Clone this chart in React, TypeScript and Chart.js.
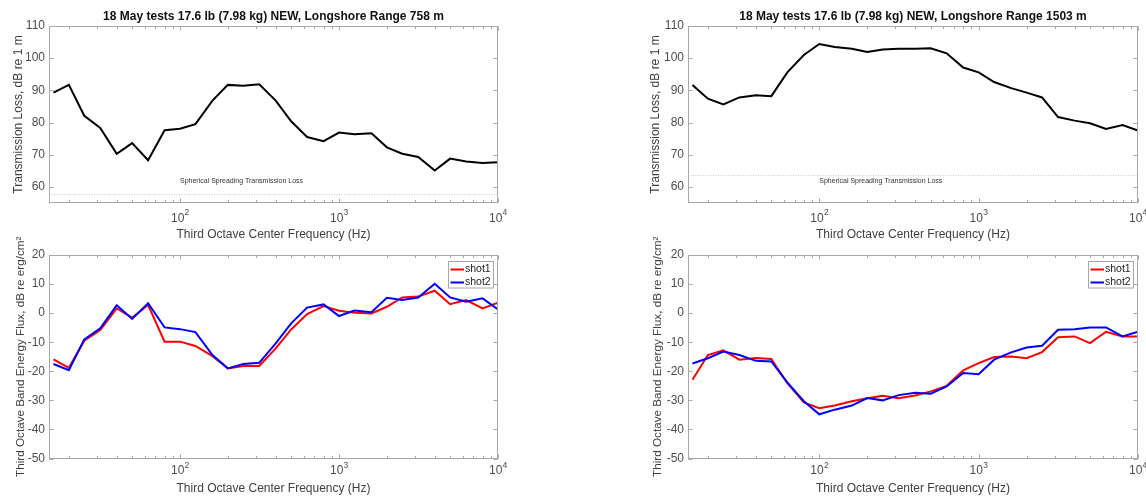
import React, { useEffect, useRef } from 'react';
import { Chart, registerables } from 'chart.js';

Chart.register(...registerables);

const FONT = '"Liberation Sans", Arial, Helvetica, sans-serif';

// Third-octave band centre frequencies (Hz)
const FREQS = [16, 20, 25, 31.5, 40, 50, 63, 80, 100, 125, 160, 200, 250, 315, 400, 500, 630, 800, 1000, 1250, 1600, 2000, 2500, 3150, 4000, 5000, 6300, 8000, 10000];

// Transmission loss, dB re 1 m
const TL_758 = [89.3, 91.7, 82.1, 78.3, 70.3, 73.6, 68.3, 77.6, 78.1, 79.5, 86.8, 91.7, 91.4, 91.9, 86.8, 80.4, 75.5, 74.2, 76.9, 76.4, 76.7, 72.3, 70.3, 69.3, 65.1, 68.8, 67.9, 67.4, 67.7];
const TL_1503 = [91.7, 87.4, 85.6, 87.8, 88.5, 88.2, 95.6, 101.0, 104.4, 103.5, 102.9, 101.9, 102.7, 102.9, 102.9, 103.1, 101.5, 97.1, 95.6, 92.6, 90.7, 89.3, 87.8, 81.7, 80.6, 79.8, 78.0, 79.2, 77.5];

// Spherical spreading transmission loss levels
const SPHERICAL_758 = 57.6;
const SPHERICAL_1503 = 63.5;

// Third octave band energy flux, dB re erg/cm^2
const FLUX_758_SHOT1 = [-15.9, -18.8, -9.5, -5.8, 1.6, -1.5, 2.8, -9.8, -9.8, -11.3, -14.8, -19.0, -18.2, -18.2, -12.1, -5.6, -0.3, 2.4, 0.8, 0.1, -0.1, 2.2, 5.4, 5.7, 7.7, 3.1, 4.5, 1.6, 3.6];
const FLUX_758_SHOT2 = [-17.5, -19.6, -9.0, -5.2, 2.7, -2.0, 3.4, -4.9, -5.5, -6.5, -14.4, -19.0, -17.5, -17.1, -10.4, -3.5, 1.9, 3.0, -1.0, 0.9, 0.3, 5.3, 4.5, 5.4, 10.1, 5.4, 3.9, 5.1, 1.3];
const FLUX_1503_SHOT1 = [-22.9, -14.4, -12.8, -16.0, -15.4, -15.8, -24.1, -30.7, -32.7, -31.8, -30.3, -29.3, -28.4, -29.3, -28.3, -26.9, -25.0, -19.7, -17.2, -15.1, -14.9, -15.5, -13.4, -8.3, -8.0, -10.3, -6.4, -8.0, -8.0];
const FLUX_1503_SHOT2 = [-17.3, -15.5, -13.2, -14.4, -16.4, -16.6, -23.8, -30.3, -34.8, -33.2, -31.8, -29.2, -30.0, -28.2, -27.4, -27.7, -25.2, -20.6, -21.0, -16.0, -13.5, -11.8, -11.2, -5.7, -5.5, -4.9, -4.9, -8.0, -6.4];

// Axes
const X_MIN = 15;
const X_MAX = 10000;
const X_TICKS = [100, 1000, 10000];
const X_TICK_BASE = '10';
const X_TICK_EXPONENTS = ['2', '3', '4'];
const TL_Y_TICKS = [60, 70, 80, 90, 100, 110];
const FLUX_Y_TICKS = [-50, -40, -30, -20, -10, 0, 10, 20];

const TITLE_758 = '18 May tests 17.6 lb (7.98 kg) NEW, Longshore Range 758 m';
const TITLE_1503 = '18 May tests 17.6 lb (7.98 kg) NEW, Longshore Range 1503 m';
const X_TITLE = 'Third Octave Center Frequency (Hz)';
const TL_Y_TITLE = 'Transmission Loss, dB re 1 m';
const FLUX_Y_TITLE = 'Third Octave Band Energy Flux, dB re erg/cm²';
const SPREAD_LABEL = 'Spherical Spreading Transmission Loss';
const SPREAD_LABEL_X = 100;
const SPREAD_LABEL_Y = 61.7;

const toPoints = (ys: number[]) => FREQS.map((f, i) => ({ x: f, y: ys[i] }));

type PanelProps = {
  left: number;
  top: number;
  width: number;
  height: number;
  pad: { left: number; right: number; top: number; bottom: number };
  title?: string;
  yMin: number;
  yMax: number;
  yTicks: number[];
  yTitle: string;
  yTitleSize: number;
  yTitlePad: number;
  xTitlePad: number;
  xAxisHeight: number;
  xLabelBase: number;
  datasets: any[];
  note?: boolean;
  legend?: boolean;
};

function Panel(p: PanelProps) {
  const ref = useRef<HTMLCanvasElement>(null);
  useEffect(() => {
    const plugin = {
      id: 'matlabAxes',
      afterDraw(chart: any) {
        const { ctx, chartArea: a, scales } = chart;
        const xs = scales.x;
        const ys = scales.y;
        ctx.save();
        if (p.note) {
          ctx.font = `7px ${FONT}`;
          ctx.fillStyle = '#333';
          ctx.textAlign = 'left';
          ctx.textBaseline = 'middle';
          ctx.fillText(SPREAD_LABEL, xs.getPixelForValue(SPREAD_LABEL_X), ys.getPixelForValue(SPREAD_LABEL_Y));
        }
        const L = Math.round(a.left) + 0.5;
        const R = Math.round(a.right) - 0.5;
        const T = Math.round(a.top) + 0.5;
        const B = Math.round(a.bottom) - 0.5;
        ctx.strokeStyle = '#a8a8a8';
        ctx.lineWidth = 1;
        ctx.beginPath();
        for (const v of p.yTicks) {
          const y = Math.round(ys.getPixelForValue(v)) + 0.5;
          ctx.moveTo(L, y); ctx.lineTo(L + 4, y);
          ctx.moveTo(R, y); ctx.lineTo(R - 4, y);
        }
        for (let d = 1; d <= 4; d++) {
          for (let m = 1; m <= 9; m++) {
            const v = m * Math.pow(10, d);
            if (v < X_MIN || v > X_MAX) continue;
            const x = Math.round(xs.getPixelForValue(v)) + 0.5;
            const len = m === 1 ? 4 : 2.5;
            ctx.moveTo(x, B); ctx.lineTo(x, B - len);
            ctx.moveTo(x, T); ctx.lineTo(x, T + len);
          }
        }
        ctx.stroke();
        ctx.strokeRect(L, T, R - L, B - T);

        // x tick labels: base with raised exponent
        ctx.fillStyle = '#4d4d4d';
        ctx.textAlign = 'left';
        ctx.textBaseline = 'alphabetic';
        X_TICKS.forEach((v, i) => {
          const x = xs.getPixelForValue(v);
          ctx.font = `12px ${FONT}`;
          const w1 = ctx.measureText(X_TICK_BASE).width;
          ctx.font = `8.5px ${FONT}`;
          const w2 = ctx.measureText(X_TICK_EXPONENTS[i]).width;
          const x0 = x - (w1 + w2) / 2;
          const yb = a.bottom + p.xLabelBase;
          ctx.font = `12px ${FONT}`;
          ctx.fillText(X_TICK_BASE, x0, yb);
          ctx.font = `8.5px ${FONT}`;
          ctx.fillText(X_TICK_EXPONENTS[i], x0 + w1 + 0.3, yb - 6.5);
        });

        if (p.legend) {
          const bw = 45, bh = 26.5;
          const bx = Math.round(a.right - 5.5 - bw) + 0.5;
          const by = Math.round(a.top + 5.5) + 0.5;
          ctx.fillStyle = '#fff';
          ctx.fillRect(bx, by, bw, bh);
          ctx.strokeStyle = '#a8a8a8';
          ctx.lineWidth = 1;
          ctx.strokeRect(bx, by, bw, bh);
          ctx.font = `10.5px ${FONT}`;
          ctx.textAlign = 'left';
          ctx.textBaseline = 'middle';
          chart.data.datasets.forEach((ds: any, i: number) => {
            const ry = by + 8 + i * 13;
            ctx.strokeStyle = ds.borderColor;
            ctx.lineWidth = 2;
            ctx.beginPath();
            ctx.moveTo(bx + 2, ry); ctx.lineTo(bx + 15.5, ry);
            ctx.stroke();
            ctx.fillStyle = '#222';
            ctx.fillText(ds.label, bx + 16.5, ry);
          });
        }
        ctx.restore();
      },
    };

    const chart = new Chart(ref.current as HTMLCanvasElement, {
      type: 'line',
      data: { datasets: p.datasets },
      options: {
        animation: false,
        responsive: false,
        devicePixelRatio: 1,
        events: [],
        layout: { padding: p.pad },
        plugins: {
          legend: { display: false },
          tooltip: { enabled: false },
          title: p.title
            ? {
                display: true,
                text: p.title,
                fullSize: false,
                color: '#111',
                font: { family: FONT, size: 12, weight: 'bold' },
                padding: { top: 9.4, bottom: 2.2 },
              }
            : { display: false },
        },
        scales: {
          x: {
            type: 'logarithmic',
            min: X_MIN,
            max: X_MAX,
            afterBuildTicks: (s: any) => {
              s.ticks = X_TICKS.map((v) => ({ value: v }));
            },
            afterFit: (s: any) => {
              s.height = p.xAxisHeight;
              s.paddingLeft = 0;
              s.paddingRight = 0;
            },
            ticks: { display: false, autoSkip: false, maxRotation: 0, minRotation: 0 },
            grid: { display: false, drawTicks: false },
            border: { display: false },
            title: {
              display: true,
              text: X_TITLE,
              color: '#404040',
              font: { family: FONT, size: 12 },
              padding: { top: 0, bottom: p.xTitlePad },
            },
          },
          y: {
            type: 'linear',
            min: p.yMin,
            max: p.yMax,
            afterBuildTicks: (s: any) => {
              s.ticks = p.yTicks.map((v) => ({ value: v }));
            },
            afterFit: (s: any) => {
              s.width = 49;
              s.paddingTop = 0;
              s.paddingBottom = 0;
            },
            ticks: {
              padding: 4,
              color: '#4d4d4d',
              font: { family: FONT, size: 12 },
              callback: (v: any) => String(v),
            },
            grid: { display: false, drawTicks: false },
            border: { display: false },
            title: {
              display: true,
              text: p.yTitle,
              color: '#404040',
              font: { family: FONT, size: p.yTitleSize },
              padding: { top: p.yTitlePad, bottom: 0 },
            },
          },
        },
      } as any,
      plugins: [plugin],
    });
    return () => chart.destroy();
  }, []);
  return (
    <canvas
      ref={ref}
      width={p.width}
      height={p.height}
      style={{ position: 'absolute', left: p.left, top: p.top, width: p.width, height: p.height }}
    />
  );
}

const tlDatasets = (tl: number[], spherical: number) => [
  {
    label: 'Transmission Loss',
    data: toPoints(tl),
    borderColor: '#000000',
    borderWidth: 2,
    pointRadius: 0,
    fill: false,
  },
  {
    label: 'Spherical Spreading',
    data: [
      { x: X_MIN, y: spherical },
      { x: X_MAX, y: spherical },
    ],
    borderColor: '#c4c4c4',
    borderWidth: 1,
    borderDash: [1, 1.5],
    pointRadius: 0,
    fill: false,
  },
];

const fluxDatasets = (s1: number[], s2: number[]) => [
  { label: 'shot1', data: toPoints(s1), borderColor: '#ff0000', borderWidth: 2, pointRadius: 0, fill: false, order: 1 },
  { label: 'shot2', data: toPoints(s2), borderColor: '#0000ff', borderWidth: 2, pointRadius: 0, fill: false, order: 0 },
];

export default function App() {
  return (
    <div
      style={{
        position: 'fixed',
        left: 0,
        top: 0,
        width: 1146,
        height: 498,
        background: '#ffffff',
        overflow: 'hidden',
      }}
    >
      <Panel
        left={0}
        top={0}
        width={573}
        height={248}
        pad={{ left: 0, right: 75, top: 0, bottom: 0 }}
        title={TITLE_758}
        yMin={55}
        yMax={110}
        yTicks={TL_Y_TICKS}
        yTitle={TL_Y_TITLE}
        yTitleSize={12}
        yTitlePad={11.2}
        xTitlePad={6.3}
        xAxisHeight={45}
        xLabelBase={18.5}
        datasets={tlDatasets(TL_758, SPHERICAL_758)}
        note
      />
      <Panel
        left={573}
        top={0}
        width={573}
        height={248}
        pad={{ left: 66, right: 8, top: 0, bottom: 0 }}
        title={TITLE_1503}
        yMin={55}
        yMax={110}
        yTicks={TL_Y_TICKS}
        yTitle={TL_Y_TITLE}
        yTitleSize={12}
        yTitlePad={9.3}
        xTitlePad={6.3}
        xAxisHeight={45}
        xLabelBase={18.5}
        datasets={tlDatasets(TL_1503, SPHERICAL_1503)}
        note
      />
      <Panel
        left={0}
        top={228}
        width={573}
        height={270}
        pad={{ left: 0, right: 75, top: 27, bottom: 0 }}
        yMin={-50}
        yMax={20}
        yTicks={FLUX_Y_TICKS}
        yTitle={FLUX_Y_TITLE}
        yTitleSize={11.7}
        yTitlePad={13.5}
        xTitlePad={1.8}
        xAxisHeight={39.5}
        xLabelBase={15.5}
        datasets={fluxDatasets(FLUX_758_SHOT1, FLUX_758_SHOT2)}
        legend
      />
      <Panel
        left={573}
        top={228}
        width={573}
        height={270}
        pad={{ left: 66, right: 8, top: 27, bottom: 0 }}
        yMin={-50}
        yMax={20}
        yTicks={FLUX_Y_TICKS}
        yTitle={FLUX_Y_TITLE}
        yTitleSize={11.7}
        yTitlePad={11.5}
        xTitlePad={1.8}
        xAxisHeight={39.5}
        xLabelBase={15.5}
        datasets={fluxDatasets(FLUX_1503_SHOT1, FLUX_1503_SHOT2)}
        legend
      />
    </div>
  );
}
